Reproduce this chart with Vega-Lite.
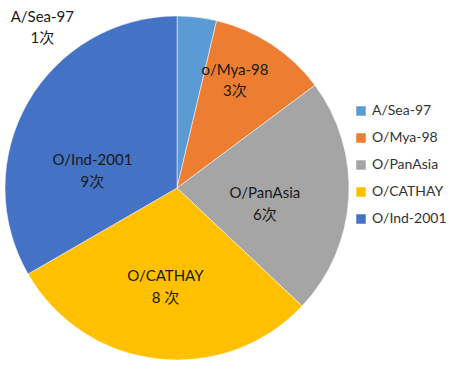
{
  "$schema": "https://vega.github.io/schema/vega-lite/v6.json",
  "width": 344,
  "height": 350,
  "padding": {"left": 5, "top": 13, "right": 101, "bottom": 12},
  "autosize": {"type": "none"},
  "background": "white",
  "config": {"view": {"stroke": null}, "font": "Lato, Noto Sans CJK SC"},
  "data": {
    "values": [
      {"name": "A/Sea-97", "count": 1, "idx": 1, "label": "A/Sea-97\n1次"},
      {"name": "O/Mya-98", "count": 3, "idx": 2, "label": "o/Mya-98\n3次"},
      {"name": "O/PanAsia", "count": 6, "idx": 3, "label": "O/PanAsia\n6次"},
      {"name": "O/CATHAY", "count": 8, "idx": 4, "label": "O/CATHAY\n8 次"},
      {"name": "O/Ind-2001", "count": 9, "idx": 5, "label": "O/Ind-2001\n9次"}
    ]
  },
  "encoding": {
    "theta": {"field": "count", "type": "quantitative", "stack": true},
    "order": {"field": "idx", "type": "quantitative"}
  },
  "layer": [
    {
      "mark": {"type": "arc", "outerRadius": 172, "stroke": "white", "strokeWidth": 0.5},
      "encoding": {
        "color": {
          "field": "name",
          "type": "nominal",
          "scale": {
            "domain": ["A/Sea-97", "O/Mya-98", "O/PanAsia", "O/CATHAY", "O/Ind-2001"],
            "range": ["#5B9BD5", "#ED7D31", "#A5A5A5", "#FFC000", "#4472C4"]
          },
          "legend": {
            "title": null,
            "orient": "none",
            "legendX": 349,
            "legendY": 91,
            "symbolType": "square",
            "symbolSize": 90,
            "symbolStrokeWidth": 0,
            "labelFontSize": 14,
            "labelFont": "Lato",
            "labelColor": "#333333",
            "rowPadding": 13,
            "labelOffset": 4
          }
        }
      }
    },
    {
      "mark": {"type": "text", "radius": 175, "dx": -155, "dy": 3, "fontSize": 15, "lineBreak": "\n", "lineHeight": 21, "color": "#1a1a1a", "baseline": "middle"},
      "encoding": {"text": {"condition": {"test": "datum.idx == 1", "field": "label"}, "value": ""}}
    },
    {
      "mark": {"type": "text", "radius": 100, "dx": 3, "dy": -34, "fontSize": 15, "lineBreak": "\n", "lineHeight": 21, "color": "#1a1a1a", "baseline": "middle"},
      "encoding": {"text": {"condition": {"test": "datum.idx == 2", "field": "label"}, "value": ""}}
    },
    {
      "mark": {"type": "text", "radius": 100, "dx": -12, "dy": -1, "fontSize": 15, "lineBreak": "\n", "lineHeight": 22, "color": "#1a1a1a", "baseline": "middle"},
      "encoding": {"text": {"condition": {"test": "datum.idx == 3", "field": "label"}, "value": ""}}
    },
    {
      "mark": {"type": "text", "radius": 100, "dx": 0, "dy": -11, "fontSize": 15, "lineBreak": "\n", "lineHeight": 22, "color": "#1a1a1a", "baseline": "middle"},
      "encoding": {"text": {"condition": {"test": "datum.idx == 4", "field": "label"}, "value": ""}}
    },
    {
      "mark": {"type": "text", "radius": 100, "dx": 2, "dy": 22, "fontSize": 15, "lineBreak": "\n", "lineHeight": 22, "color": "#1a1a1a", "baseline": "middle"},
      "encoding": {"text": {"condition": {"test": "datum.idx == 5", "field": "label"}, "value": ""}}
    }
  ]
}
